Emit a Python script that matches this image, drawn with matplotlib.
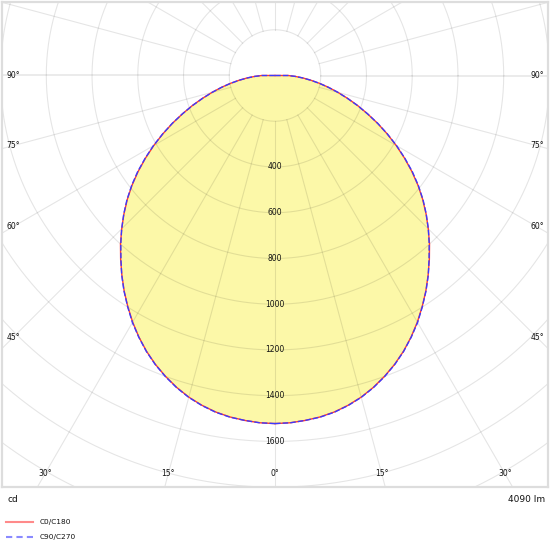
import numpy as np
import matplotlib
matplotlib.use("Agg")
import matplotlib.pyplot as plt
from matplotlib.lines import Line2D

# ---- data -------------------------------------------------------------
gamma_deg = [0, 2.5, 5, 7.5, 10, 12.5, 15, 17.5, 20, 22.5, 25, 27.5, 30, 32.5, 35, 37.5, 40, 42.5,
             45, 47.5, 50, 52.5, 55, 57.5, 60, 62.5, 65, 67.5, 70, 72.5, 75, 77.5, 80, 82.5, 85, 87.5, 90,
             95, 100, 110, 120, 130, 140, 150, 160, 170, 180]
c0_c180 = [1522, 1520, 1514, 1506, 1494, 1477, 1456, 1430, 1400, 1367, 1330, 1289, 1245, 1198, 1150, 1100,
           1050, 1000, 948, 896, 843, 788, 730, 671, 612, 553, 495, 438, 385, 333, 285, 240, 198, 158, 122,
           88, 57, 0, 0, 0, 0, 0, 0, 0, 0, 0, 0]
c90_c270 = [1522, 1520, 1514, 1507, 1495, 1478, 1457, 1431, 1401, 1368, 1331, 1290, 1247, 1199, 1151, 1101,
            1048, 998, 948, 897, 845, 790, 733, 673, 614, 554, 496, 438, 384, 332, 284, 239, 197, 157, 121,
            88, 57, 0, 0, 0, 0, 0, 0, 0, 0, 0, 0]
ring_values = [200, 400, 600, 800, 1000, 1200, 1400, 1600, 1800, 2000, 2200, 2400, 2600, 2800]
ring_labels = [400, 600, 800, 1000, 1200, 1400, 1600]
angle_labels = [90, 75, 60, 45, 30, 15, 0]
unit_text = "cd"
flux_text = "4090 lm"
legend_names = ["C0/C180", "C90/C270"]

# ---- layout (pixels) ---------------------------------------------------
W = H = 550
cx, cy = 275.0, 75.5          # pole position in px (from top-left)
s = 0.2287                    # px per cd
box_l, box_r, box_t, box_b = 2, 548, 2, 487

fig = plt.figure(figsize=(W / 100, H / 100), dpi=100)
fig.patch.set_facecolor("white")
ax = fig.add_axes([box_l / W, 1 - box_b / H, (box_r - box_l) / W, (box_b - box_t) / H])
ax.set_xlim((box_l - cx) / s, (box_r - cx) / s)
ax.set_ylim((cy - box_b) / s, (cy - box_t) / s)
ax.set_xticks([]); ax.set_yticks([])
for sp in ax.spines.values():
    sp.set_color("#dddddd")
    sp.set_linewidth(1.6)

g = np.radians(np.array(gamma_deg, dtype=float))
I0 = np.array(c0_c180, dtype=float)
I90 = np.array(c90_c270, dtype=float)

# fill
xr = I0 * np.sin(g); yr = -I0 * np.cos(g)
xl = -I0 * np.sin(g); yl = -I0 * np.cos(g)
px = np.concatenate([xl[::-1], xr]); py = np.concatenate([yl[::-1], yr])
ax.fill(px, py, color="#fcf8a8", zorder=1, lw=0)

# grid
grid_kw = dict(color="black", alpha=0.10, lw=0.8, zorder=2)
t = np.linspace(0, 2 * np.pi, 721)
for r in ring_values:
    ax.plot(r * np.cos(t), r * np.sin(t), **grid_kw)
for a in range(0, 360, 15):
    ar = np.radians(a)
    kw = dict(grid_kw)
    if a in (90, 270):
        kw["lw"] = 1.4
        kw["alpha"] = 0.08
    ax.plot([ring_values[0] * np.sin(ar), 4000 * np.sin(ar)],
            [-ring_values[0] * np.cos(ar), -4000 * np.cos(ar)], **kw)

# curves
red = "#ff3b30"
blue = "#3a3aff"
ax.plot(xr, yr, color=red, lw=1.0, zorder=4)
ax.plot(xl, yl, color=red, lw=1.0, zorder=4)
x9r = I90 * np.sin(g); y9r = -I90 * np.cos(g)
ax.plot(x9r, y9r, color=blue, lw=1.0, ls=(0, (4, 1.5)), zorder=5)
ax.plot(-x9r, y9r, color=blue, lw=1.0, ls=(0, (4, 1.5)), zorder=5)

txt = "#111111"
for r in ring_labels:
    ax.text(0, -r, str(r), ha="center", va="center", fontsize=5.5, color=txt, zorder=6)

# angle labels on an inset rectangle
in_l, in_r, in_b = 13.0, 537.0, 474.0
def px2data(xp, yp):
    return (xp - cx) / s, (cy - yp) / s
for a in angle_labels:
    for side in (-1, 1):
        if a == 0 and side == 1:
            continue
        ar = np.radians(a)
        dx, dy = np.sin(ar), np.cos(ar)
        tb = (in_b - cy) / dy if dy > 1e-9 else np.inf
        ts = (cx - in_l) / dx if dx > 1e-9 else np.inf
        tt = min(tb, ts)
        xp = cx + side * dx * tt
        yp = cy + dy * tt
        xd, yd = px2data(xp, yp)
        ax.text(xd, yd, f"{a}°", ha="center", va="center", fontsize=5.5, color=txt, zorder=6)

# bottom texts
fig.text(7 / W, 1 - 499 / H, unit_text, ha="left", va="center", fontsize=6.5, color=txt)
fig.text(545 / W, 1 - 499 / H, flux_text, ha="right", va="center", fontsize=6.5, color=txt)

# legend
ly = [522, 537]
fig.add_artist(Line2D([6 / W, 33 / W], [1 - ly[0] / H] * 2, color="#ff8a8a", lw=1.5, transform=fig.transFigure))
fig.add_artist(Line2D([6 / W, 33 / W], [1 - ly[1] / H] * 2, color="#8a8aff", lw=1.5, ls=(0, (3, 2)),
                      transform=fig.transFigure))
fig.text(40 / W, 1 - ly[0] / H, legend_names[0], ha="left", va="center", fontsize=5.3, color=txt)
fig.text(40 / W, 1 - ly[1] / H, legend_names[1], ha="left", va="center", fontsize=5.3, color=txt)

fig.savefig("out.png", dpi=100, facecolor="white")
